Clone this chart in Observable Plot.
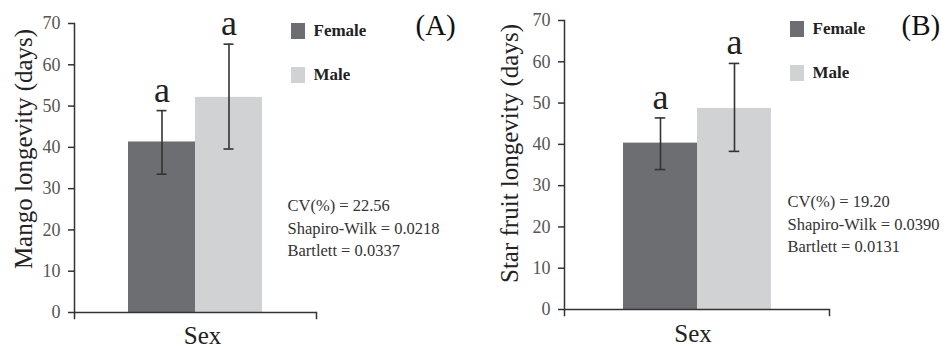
<!DOCTYPE html>
<html><head><meta charset="utf-8">
<script src="https://cdn.jsdelivr.net/npm/d3@7"></script>
<script src="https://cdn.jsdelivr.net/npm/@observablehq/plot@0.6"></script>
<style>
body{margin:0;background:#fff;}
#row{display:flex;width:946px;height:347px;overflow:hidden;}
.panel{position:relative;height:347px;flex:none;}
.panel svg{display:block;}
.lg-swatches{position:absolute;margin:0 !important;}
.lg-swatch{height:44px;padding:0 !important;margin:0 !important;}
</style></head><body><div id="row"></div>
<script>
const sexes = ["Female", "Male"];
const barColors = ["#6d6e71", "#d1d2d4"];
const yTicks = [0, 10, 20, 30, 40, 50, 60, 70];

const mangoMean = [41.3, 52.1];
const mangoLow = [33.5, 39.6];
const mangoHigh = [48.9, 65.0];
const mangoLetters = ["a", "a"];
const mangoStats = ["CV(%) = 22.56", "Shapiro-Wilk = 0.0218", "Bartlett = 0.0337"];

const starMean = [40.3, 48.7];
const starLow = [33.9, 38.3];
const starHigh = [46.4, 59.6];
const starLetters = ["a", "a"];
const starStats = ["CV(%) = 19.20", "Shapiro-Wilk = 0.0390", "Bartlett = 0.0131"];

const serif = "'Liberation Serif', 'Times New Roman', serif";

const panels = [
  {tag: "(A)", ylabel: "Mango longevity (days)", mean: mangoMean, low: mangoLow, high: mangoHigh, letters: mangoLetters, stats: mangoStats,
   L: {width: 476, ml: 74, mr: 160, mt: 23, mb: 35, statsDx: -29, statsDy: 58.5, tagDx: 99, tagDy: 2.5, ylabDx: -51, ylabDy: -19, sexDx: 7, sexDy: 23, lgLeft: 291, lgTop: 9}},
  {tag: "(B)", ylabel: "Star fruit longevity (days)", mean: starMean, low: starLow, high: starHigh, letters: starLetters, stats: starStats,
   L: {width: 470, ml: 88, mr: 117, mt: 20, mb: 38, statsDx: -42, statsDy: 57.5, tagDx: 72, tagDy: 5, ylabDx: -55, ylabDy: -11.5, sexDx: -4, sexDy: 24.5, lgLeft: 314, lgTop: 7}}
];

const row = document.getElementById("row");
const po = 0.78;

for (const p of panels) {
  const L = p.L;
  const table = sexes.map((s, i) => ({sex: s, mean: p.mean[i], low: p.low[i], high: p.high[i], letter: p.letters[i]}));
  const bw = (L.width - L.ml - L.mr) / (2 + 2 * po);
  const capInset = (bw - 11) / 2;
  const frameH = 347 - L.mt - L.mb;
  const chart = Plot.plot({
    width: L.width,
    height: 347,
    marginLeft: L.ml, marginRight: L.mr, marginTop: L.mt, marginBottom: L.mb,
    style: {fontFamily: serif, background: "#fff", overflow: "visible"},
    x: {domain: sexes, paddingInner: 0, paddingOuter: po, axis: null},
    y: {domain: [0, 70], axis: null},
    color: {domain: sexes, range: barColors},
    marks: [
      Plot.barY(table, {x: "sex", y: "mean", fill: "sex"}),
      Plot.ruleX(table, {x: "sex", y1: "low", y2: "high", stroke: "#333", strokeWidth: 1.6}),
      Plot.tickY(table, {x: "sex", y: "low", stroke: "#333", strokeWidth: 1.6, insetLeft: capInset, insetRight: capInset}),
      Plot.tickY(table, {x: "sex", y: "high", stroke: "#333", strokeWidth: 1.6, insetLeft: capInset, insetRight: capInset}),
      Plot.text(table, {x: "sex", y: "high", text: "letter", lineAnchor: "bottom", dy: -9, fontSize: 36, fill: "#222"}),
      Plot.axisY({ticks: yTicks, tickSize: 6, tickPadding: 8, fontSize: 18, fontFamily: serif, fill: "#555", stroke: "#333", strokeWidth: 1.5, label: null}),
      Plot.frame({anchor: "left", stroke: "#333", strokeWidth: 1.5, insetBottom: -6}),
      Plot.frame({anchor: "right", stroke: "#333", strokeWidth: 1.5, insetTop: frameH, insetBottom: -6}),
      Plot.ruleY([0], {stroke: "#333", strokeWidth: 1.5}),
      Plot.text([p.ylabel], {frameAnchor: "left", rotate: -90, dx: L.ylabDx, dy: L.ylabDy, fontSize: 25, fill: "#222", textAnchor: "middle", lineAnchor: "middle"}),
      Plot.text(["Sex"], {frameAnchor: "bottom", dx: L.sexDx, dy: L.sexDy, fontSize: 25, fill: "#222", lineAnchor: "middle"}),
      Plot.text([p.stats.join("\n")], {frameAnchor: "right", dx: L.statsDx, dy: L.statsDy, textAnchor: "start", lineAnchor: "middle", fontSize: 16.5, lineHeight: 1.36, fill: "#333"}),
      Plot.text([p.tag], {frameAnchor: "top-right", dx: L.tagDx, dy: L.tagDy, textAnchor: "start", lineAnchor: "middle", fontSize: 29, fill: "#111"})
    ]
  });
  const div = document.createElement("div");
  div.className = "panel";
  div.style.width = L.width + "px";
  div.appendChild(chart);
  const legend = Plot.legend({
    color: {domain: sexes, range: barColors},
    legend: "swatches",
    columns: 1,
    swatchWidth: 14, swatchHeight: 16,
    className: "lg",
    style: {fontFamily: serif, fontSize: "17px", fontWeight: "bold", color: "#222", left: L.lgLeft + "px", top: L.lgTop + "px", position: "absolute", margin: "0"}
  });
  div.appendChild(legend);
  row.appendChild(div);
}
</script></body></html>
